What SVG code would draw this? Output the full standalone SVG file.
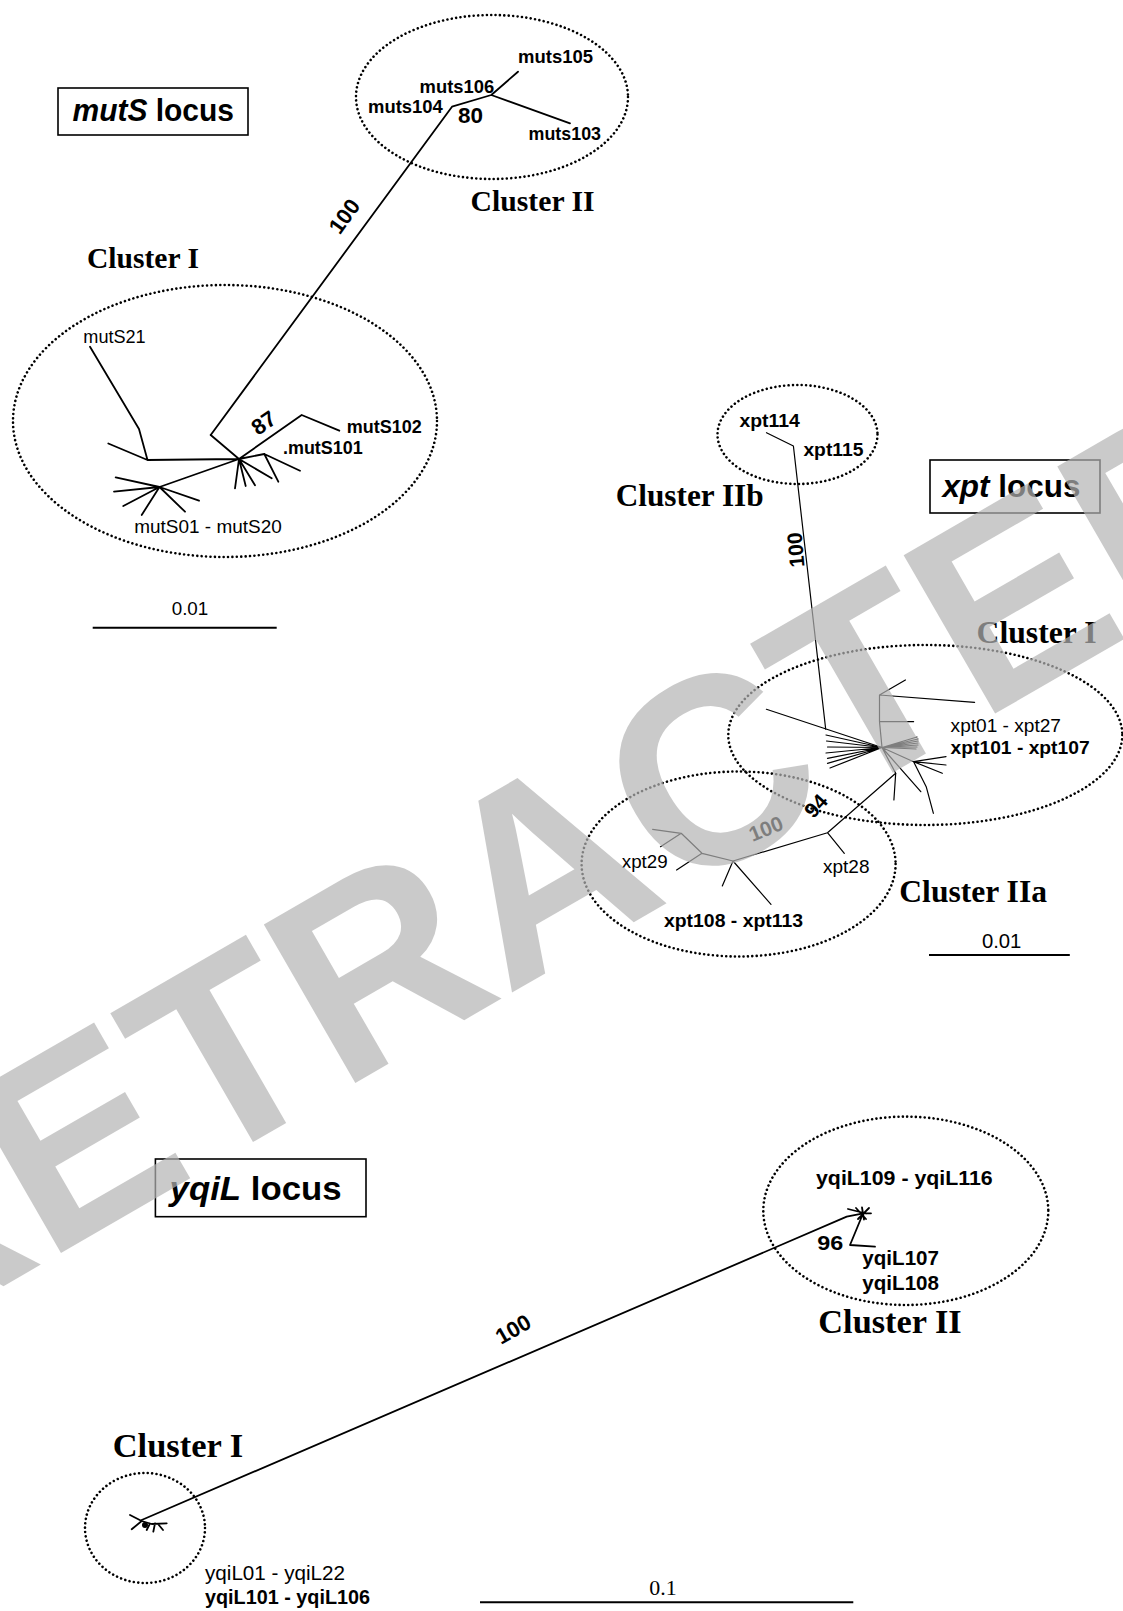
<svg xmlns="http://www.w3.org/2000/svg" width="1123" height="1611" viewBox="0 0 1123 1611" font-size="18">
<style>
 .lbl{font-family:"Liberation Sans",Arial,Helvetica,sans-serif;fill:#000}
 .b{font-weight:bold}
 .cl{font-family:"Liberation Serif","Times New Roman",serif;font-weight:bold;fill:#000}
 .br{fill:none;stroke:#000;stroke-width:1.8;stroke-linecap:round;stroke-linejoin:round}
 .thin{stroke-width:1.2}
 .ell{fill:none;stroke:#000;stroke-width:2.6;stroke-dasharray:0.01 4.4;stroke-linecap:round}
 .box{fill:none;stroke:#000;stroke-width:1.6}
 .bar{stroke:#000;stroke-width:2}
 .wm{font-family:"Liberation Sans",Arial,sans-serif;font-weight:bold;font-size:266px;fill:#b4b4b4;fill-opacity:0.7}
</style>
<rect width="1123" height="1611" fill="#fff"/>

<!-- mutS panel -->
<g id="mutS-title">
 <rect class="box" x="58" y="88" width="190" height="47"/>
 <text class="lbl b" x="72.5" y="121" font-size="31" textLength="161.5" lengthAdjust="spacingAndGlyphs"><tspan font-style="italic">mutS</tspan> locus</text>
</g>
<g id="mutS-clusterII">
 <ellipse class="ell" cx="492" cy="97" rx="136" ry="82"/>
 <text class="cl" x="470.6" y="210.7" font-size="30" textLength="124" lengthAdjust="spacingAndGlyphs">Cluster II</text>
 <text class="lbl b" x="518" y="63.3" textLength="75" lengthAdjust="spacingAndGlyphs">muts105</text>
 <text class="lbl b" x="419.6" y="92.7" textLength="74.6" lengthAdjust="spacingAndGlyphs">muts106</text>
 <text class="lbl b" x="368" y="112.7" textLength="74.8" lengthAdjust="spacingAndGlyphs">muts104</text>
 <text class="lbl b" x="528.6" y="140" textLength="72.4" lengthAdjust="spacingAndGlyphs">muts103</text>
 <text class="lbl b" x="458" y="123" font-size="22" textLength="25" lengthAdjust="spacingAndGlyphs">80</text>
</g>
<g id="mutS-clusterI">
 <ellipse class="ell" cx="225" cy="421" rx="212" ry="136"/>
 <text class="cl" x="87" y="268" font-size="30" textLength="112" lengthAdjust="spacingAndGlyphs">Cluster I</text>
 <text class="lbl" x="83.3" y="342.7" textLength="62.4" lengthAdjust="spacingAndGlyphs">mutS21</text>
 <text class="lbl b" x="346.7" y="433.3" textLength="75" lengthAdjust="spacingAndGlyphs">mutS102</text>
 <text class="lbl b" x="283" y="454" textLength="79.7" lengthAdjust="spacingAndGlyphs">.mutS101</text>
 <text class="lbl" x="134.3" y="533.3" textLength="147.4" lengthAdjust="spacingAndGlyphs">mutS01 -  mutS20</text>
 <text class="lbl b" font-size="22" text-anchor="middle" transform="translate(263.5,422.5) rotate(-35)" y="8">87</text>
</g>
<g id="mutS-scale">
 <line class="bar" x1="92.7" y1="627.7" x2="276.7" y2="627.7"/>
 <text class="lbl" x="171.7" y="615" font-size="18.5" textLength="36.6" lengthAdjust="spacingAndGlyphs">0.01</text>
</g>

<!-- xpt panel -->
<g id="xpt-title">
 <rect class="box" x="930" y="460" width="170" height="53"/>
 <text class="lbl b" x="942.4" y="497.3" font-size="31" textLength="138" lengthAdjust="spacingAndGlyphs"><tspan font-style="italic">xpt</tspan> locus</text>
</g>
<g id="xpt-clusterIIb">
 <ellipse class="ell" cx="797.5" cy="434.5" rx="80" ry="49.5"/>
 <text class="cl" x="615.7" y="506" font-size="31" textLength="148" lengthAdjust="spacingAndGlyphs">Cluster IIb</text>
 <text class="lbl b" x="739.5" y="426.7" textLength="60.3" lengthAdjust="spacingAndGlyphs">xpt114</text>
 <text class="lbl b" x="803.4" y="456" textLength="60" lengthAdjust="spacingAndGlyphs">xpt115</text>
</g>
<g id="xpt-clusterI">
 <ellipse class="ell" cx="925.3" cy="735" rx="197" ry="90"/>
 <text class="cl" x="976.5" y="643.3" font-size="31" textLength="120" lengthAdjust="spacingAndGlyphs">Cluster I</text>
 <text class="lbl" x="950.6" y="731.7" font-size="19" textLength="110.4" lengthAdjust="spacingAndGlyphs">xpt01 - xpt27</text>
 <text class="lbl b" x="950.6" y="754.3" font-size="19" textLength="139" lengthAdjust="spacingAndGlyphs">xpt101 - xpt107</text>
</g>
<g id="xpt-clusterIIa">
 <ellipse class="ell" cx="738.6" cy="864" rx="157" ry="92.5"/>
 <text class="cl" x="899.3" y="901.7" font-size="31" textLength="147.7" lengthAdjust="spacingAndGlyphs">Cluster IIa</text>
 <text class="lbl" x="621.8" y="867.7" font-size="19" textLength="45.9" lengthAdjust="spacingAndGlyphs">xpt29</text>
 <text class="lbl" x="823" y="873.3" font-size="19" textLength="46.5" lengthAdjust="spacingAndGlyphs">xpt28</text>
 <text class="lbl b" x="664" y="927.3" font-size="19" textLength="139" lengthAdjust="spacingAndGlyphs">xpt108 - xpt113</text>
 <text class="lbl b" font-size="21" text-anchor="middle" transform="translate(816,806) rotate(-48)" y="7">94</text>
 <text class="lbl b" font-size="21" text-anchor="middle" transform="translate(766,829) rotate(-22)" y="7">100</text>
</g>
<g id="xpt-scale">
 <line class="bar" x1="929" y1="955" x2="1069.8" y2="955"/>
 <text class="lbl" x="981.9" y="948.3" font-size="20" textLength="39.5" lengthAdjust="spacingAndGlyphs">0.01</text>
</g>

<!-- yqiL panel -->
<g id="yqiL-title">
 <rect class="box" x="155.4" y="1159" width="210.6" height="57.7"/>
 <text class="lbl b" x="169.6" y="1200" font-size="34" textLength="172" lengthAdjust="spacingAndGlyphs"><tspan font-style="italic">yqiL</tspan> locus</text>
</g>
<g id="yqiL-clusterII">
 <ellipse class="ell" cx="905.8" cy="1210.8" rx="142.5" ry="94.2"/>
 <text class="cl" x="818.3" y="1333.3" font-size="34" textLength="143.4" lengthAdjust="spacingAndGlyphs">Cluster II</text>
 <text class="lbl b" x="816" y="1185" font-size="21" textLength="176.7" lengthAdjust="spacingAndGlyphs">yqiL109 - yqiL116</text>
 <text class="lbl b" x="817.3" y="1250" font-size="21" textLength="26" lengthAdjust="spacingAndGlyphs">96</text>
 <text class="lbl b" x="862.3" y="1265" font-size="21" textLength="76.7" lengthAdjust="spacingAndGlyphs">yqiL107</text>
 <text class="lbl b" x="862.3" y="1290" font-size="21" textLength="76.7" lengthAdjust="spacingAndGlyphs">yqiL108</text>
</g>
<g id="yqiL-clusterI">
 <ellipse class="ell" cx="145" cy="1528" rx="60" ry="55"/>
 <text class="cl" x="112.7" y="1457.3" font-size="34" textLength="130.6" lengthAdjust="spacingAndGlyphs">Cluster I</text>
 <text class="lbl" x="205" y="1580" font-size="20" textLength="140" lengthAdjust="spacingAndGlyphs">yqiL01 - yqiL22</text>
 <text class="lbl b" x="205" y="1604" font-size="20" textLength="165" lengthAdjust="spacingAndGlyphs">yqiL101 - yqiL106</text>
</g>
<g id="yqiL-scale">
 <line class="bar" x1="480" y1="1602.3" x2="853.3" y2="1602.3" stroke-width="2.5"/>
 <text x="649.3" y="1595" font-family="Liberation Serif,'Times New Roman',serif" font-size="22" textLength="27.4" lengthAdjust="spacingAndGlyphs">0.1</text>
</g>

<!-- connectors: tree branches -->
<g id="connectors">
 <!-- mutS -->
 <path class="br" d="M210.7,435 L452,106.7 L491.3,95 L518,71.7 M491.3,95 L570,123.3"/>
 <path class="br" d="M210.7,435 L239,459 M90,346.7 L139,429 L147.5,460 L239,459 M108.3,443.5 L147.5,460 M239,459 L159.5,487 M159.5,487 L115.7,477.3 M159.5,487 L114,491.7 M159.5,487 L123.3,506 M159.5,487 L141.7,515 M159.5,487 L185,511.7 M159.5,487 L199,500.7 M239,459 L301.7,415 L339.3,430.7 M239,459 L264.3,454 L300,470.7 M264.3,454 L278.3,481.7 M239,459 L235,488.3 M239,459 L245.7,486 M239,459 L255,485.3 M239,459 L271.7,478.3"/>
 <text class="lbl b" font-size="22" text-anchor="middle" transform="translate(344,216) rotate(-54)" y="8">100</text>
 <!-- xpt -->
 <path class="br thin" d="M766.5,432.7 L793.4,446 L825.7,729.3 M766.4,709.3 L882,747.5"/>
 <path class="br thin" d="M882,747.5 L826,735 M882,747.5 L826.5,741 M882,747.5 L827.5,747 M882,747.5 L826,753 M882,747.5 L827.5,758.3 M882,747.5 L827.5,763.3 M882,747.5 L830,768"/>
 <path class="br thin" d="M882,747.5 L879.5,721.7 L879.5,695 L905.4,680 M879.5,695 L974.6,702.3 M879.5,721.7 L913.6,721.7"/>
 <path class="br thin" d="M882,747.5 L917,737 M882,747.5 L918,739 M882,747.5 L918,741 M882,747.5 L918,743 M882,747.5 L918,745 M882,747.5 L917,747 M882,747.5 L916,749"/>
 <path class="br thin" d="M882,747.5 L913.6,761.7 L946,756.7 M913.6,761.7 L946,765 M913.6,761.7 L942.3,773.3 M913.6,761.7 L926.2,786.7 L933.4,813.3 M882,747.5 L920.8,791.7 M882,747.5 L895.7,773.3 L893.9,800"/>
 <path class="br thin" d="M895.7,773.3 L827.5,832.7 L733,861 M827.5,832.7 L844.3,853.3 M733,861 L702,853.3 L681.2,833.3 L652.6,829.3 M681.2,833.3 L660.5,846.7 M702,853.3 L676.6,870 M733,861 L722.3,886 M733,861 L771,904.3"/>
 <text class="lbl b" font-size="21" text-anchor="middle" transform="translate(796,550) rotate(-95)" y="7">100</text>
 <!-- yqiL -->
 <path class="br" d="M141.7,1520 L846.7,1216.7 L863.3,1213.3"/>
 <path class="br" d="M848,1209 L866,1213.5 M856,1208 L866,1219 M862,1207.5 L864,1219.5 M858,1219 L869,1208 M863.3,1213.3 L871,1213.3 M862,1216 L850,1245 L875,1246.7"/>
 <path class="br" d="M130,1515 L141.7,1521 M131.7,1529.3 L141.7,1521 M141.7,1521 L151.7,1524 L166.7,1523.3 M146.7,1530 L150,1523.5 M153.3,1531.7 L155,1523.5 M158,1524 L163,1530"/>
 <circle cx="145" cy="1525" r="3" fill="#000"/>
 <text class="lbl b" font-size="22" text-anchor="middle" transform="translate(513,1329) rotate(-30)" y="8">100</text>
</g>

<!-- watermark -->
<text class="wm" transform="translate(-120.8,1357.9) rotate(-30)">RETRACTED</text>
</svg>
